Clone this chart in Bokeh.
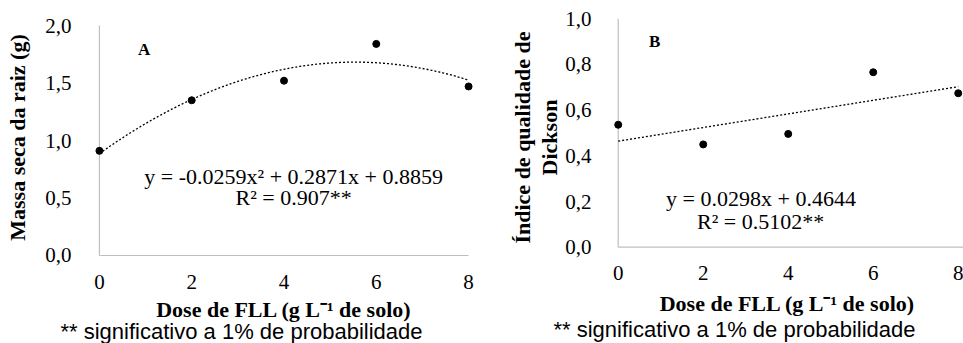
from bokeh.plotting import figure
from bokeh.layouts import row
from bokeh.models import Range1d, FixedTicker, Title
from bokeh.core.properties import value
from bokeh.embed import file_html
from bokeh.resources import INLINE
import numpy as np

# ---- data ----
dose = [0, 2, 4, 6, 8]
massa_raiz = [0.91, 1.35, 1.52, 1.84, 1.47]
dickson = [0.536, 0.450, 0.496, 0.766, 0.674]
coef_a = [-0.0259, 0.2871, 0.8859]   # quadratic fit shown on chart A
coef_b = [0.0298, 0.4644]            # linear fit shown on chart B
xticks = [0, 2, 4, 6, 8]
yticks_a = [0, 0.5, 1.0, 1.5, 2.0]
ylabels_a = ["0,0", "0,5", "1,0", "1,5", "2,0"]
yticks_b = [0, 0.2, 0.4, 0.6, 0.8, 1.0]
ylabels_b = ["0,0", "0,2", "0,4", "0,6", "0,8", "1,0"]
eq_a = ["y = -0.0259x² + 0.2871x + 0.8859", "R² = 0.907**"]
eq_b = ["y = 0.0298x + 0.4644", "R² = 0.5102**"]
xlabel = "Dose de FLL (g L⁻¹ de solo)"
ylabel_a = "Massa seca da raiz (g)"
ylabel_b = "Índice de qualidade de\nDickson"
footnote = "** significativo a 1% de probabilidade"

SERIF = "Liberation Serif"
SANS = "Liberation Sans"
GRAY = "#bfbfbf"


def style(p, yt, yl, xstand, ystand, xlab_stand, ylab_stand):
    p.outline_line_color = None
    p.xgrid.visible = False
    p.ygrid.visible = False
    for ax in (p.xaxis[0], p.yaxis[0]):
        ax.axis_line_color = None
        ax.major_tick_line_color = None
        ax.minor_tick_line_color = None
        ax.major_label_text_font = SERIF
        ax.major_label_text_font_size = "21px"
        ax.major_label_text_color = "black"
        ax.axis_label_text_font = SERIF
        ax.axis_label_text_font_style = "bold"
        ax.axis_label_text_font_size = "22px"
        ax.axis_label_text_color = "black"
        ax.axis_label_text_line_height = 1.1
    p.xaxis.ticker = FixedTicker(ticks=xticks)
    p.yaxis.ticker = FixedTicker(ticks=yt)
    p.yaxis.major_label_overrides = {t: l for t, l in zip(yt, yl)}
    p.xaxis.major_label_standoff = xstand
    p.yaxis.major_label_standoff = ystand
    p.xaxis.axis_label_standoff = xlab_stand
    p.yaxis.axis_label_standoff = ylab_stand


def add_footnote(p, offset, standoff):
    p.add_layout(Title(text=footnote, align="left", offset=offset, standoff=standoff,
                       text_font=SANS, text_font_size="22px", text_font_style="normal",
                       text_color="black"), "below")


# ---- panel A ----
pa = figure(width=480, height=343, output_backend="svg", toolbar_location=None,
            x_range=Range1d(-0.15, 8.15), y_range=Range1d(-0.0435, 2.0957),
            min_border_left=92, min_border_right=5, min_border_top=14, min_border_bottom=83,
            x_axis_label=xlabel, y_axis_label=ylabel_a)
style(pa, yticks_a, ylabels_a, 8, 15, 5, 12)
pa.line([0, 8], [0, 0], line_color=GRAY, line_width=1.2)
pa.line([0, 0], [0, 2], line_color=GRAY, line_width=1.2)
xs = np.linspace(0, 8, 200)
pa.line(xs, coef_a[0] * xs**2 + coef_a[1] * xs + coef_a[2], line_color="black",
        line_width=1.3, line_dash="2 2")
pa.scatter(dose, massa_raiz, size=7, color="black")
pa.text([0.97], [1.79], text=["A"], text_font=value(SERIF), text_font_style="bold",
        text_font_size="17px", text_align="center", text_baseline="middle", text_color="black")
pa.text([4.21, 4.21], [0.687, 0.50], text=eq_a, text_font=value(SERIF),
        text_font_size="22px", text_align="center", text_baseline="middle", text_color="black")
add_footnote(pa, -32, -15)

# ---- panel B ----
pb = figure(width=483, height=343, output_backend="svg", toolbar_location=None,
            x_range=Range1d(-0.158, 8.124), y_range=Range1d(-0.0582, 1.0188),
            min_border_left=131, min_border_right=0, min_border_top=14, min_border_bottom=83,
            x_axis_label=xlabel, y_axis_label=ylabel_b)
style(pb, yticks_b, ylabels_b, -1, 14, 8, 0)
pb.line([0, 8.2], [0, 0], line_color=GRAY, line_width=1.2)
pb.line([0, 0], [0, 1.0], line_color=GRAY, line_width=1.2)
xl = np.array([0, 8])
pb.line(xl, coef_b[0] * xl + coef_b[1], line_color="black", line_width=1.3, line_dash="2 2")
pb.scatter(dose, dickson, size=7, color="black")
pb.text([0.855], [0.90], text=["B"], text_font=value(SERIF), text_font_style="bold",
        text_font_size="17px", text_align="center", text_baseline="middle", text_color="black")
pb.text([3.36, 3.35], [0.215, 0.1125], text=eq_b, text_font=value(SERIF),
        text_font_size="22px", text_align="center", text_baseline="middle", text_color="black")
add_footnote(pb, -58, -8)

layout = row(pa, pb)
open("out.html", "w").write(file_html(layout, INLINE))
